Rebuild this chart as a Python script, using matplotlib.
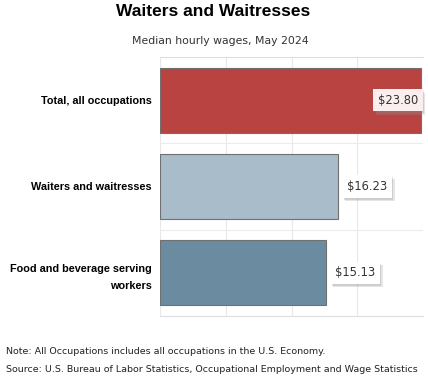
import matplotlib.pyplot as plt
import matplotlib.patheffects as pe

categories = ["Total, all occupations", "Waiters and waitresses", "Food and beverage serving\nworkers"]
wages = [23.80, 16.23, 15.13]
labels = ["$23.80", "$16.23", "$15.13"]
colors = ["#B94340", "#A9BCC9", "#6B8CA0"]

fig = plt.figure(figsize=(4.28, 3.81), dpi=100)
ax = fig.add_axes([160 / 428, 1 - 316 / 381, 263 / 428, 259 / 381])

y = list(range(len(categories)))
ax.barh(y, wages, height=0.75, color=colors, edgecolor="#707070", linewidth=0.8, zorder=2)
ax.set_xlim(0, 24)
ax.set_ylim(2.5, -0.5)

ax.set_xticks([0, 6, 12, 18, 24])
ax.set_xticklabels([])
ax.set_yticks(y)
ax.set_yticklabels(categories, fontsize=7.8, fontweight="bold", family="Liberation Sans",
                   linespacing=1.9)
ax.set_yticks([0.5, 1.5], minor=True)
ax.tick_params(length=0, pad=6)
ax.tick_params(which="minor", length=0)
ax.grid(axis="x", color="#e8e8e8", linewidth=0.8, zorder=0)
ax.grid(axis="y", which="minor", color="#ececec", linewidth=0.8, zorder=0)
for s in ["left", "right"]:
    ax.spines[s].set_visible(False)
ax.spines["top"].set_color("#dddddd")
ax.spines["bottom"].set_color("#dddddd")

shadow = [pe.withSimplePatchShadow(offset=(2, -2.5), shadow_rgbFace="#999999", alpha=0.25),
          pe.withSimplePatchShadow(offset=(1, -1.5), shadow_rgbFace="#888888", alpha=0.25),
          pe.Normal()]
for i, (w, lab) in enumerate(zip(wages, labels)):
    if i == 0:
        t = ax.text(w - 0.25, i, lab, ha="right", va="center", fontsize=8.3, color="#333333",
                    bbox=dict(boxstyle="square,pad=0.4", fc="#fbeeee", ec="none"), zorder=4)
    else:
        t = ax.text(w + 0.85, i, lab, ha="left", va="center", fontsize=8.3, color="#333333",
                    bbox=dict(boxstyle="square,pad=0.4", fc="white", ec="none"), zorder=4)
    t.get_bbox_patch().set_path_effects(shadow)

fig.text(213 / 428, 1 - 12 / 381, "Waiters and Waitresses", ha="center", va="center",
         fontsize=12.5, fontweight="bold", family="Liberation Sans")
fig.text(220 / 428, 1 - 41 / 381, "Median hourly wages, May 2024", ha="center", va="center",
         fontsize=7.8, color="#333333")
fig.text(6 / 428, 1 - 352 / 381, "Note: All Occupations includes all occupations in the U.S. Economy.",
         ha="left", va="center", fontsize=6.8, color="#222222")
fig.text(6 / 428, 1 - 369 / 381, "Source: U.S. Bureau of Labor Statistics, Occupational Employment and Wage Statistics",
         ha="left", va="center", fontsize=6.8, color="#222222")

fig.savefig("out.png", dpi=100)
